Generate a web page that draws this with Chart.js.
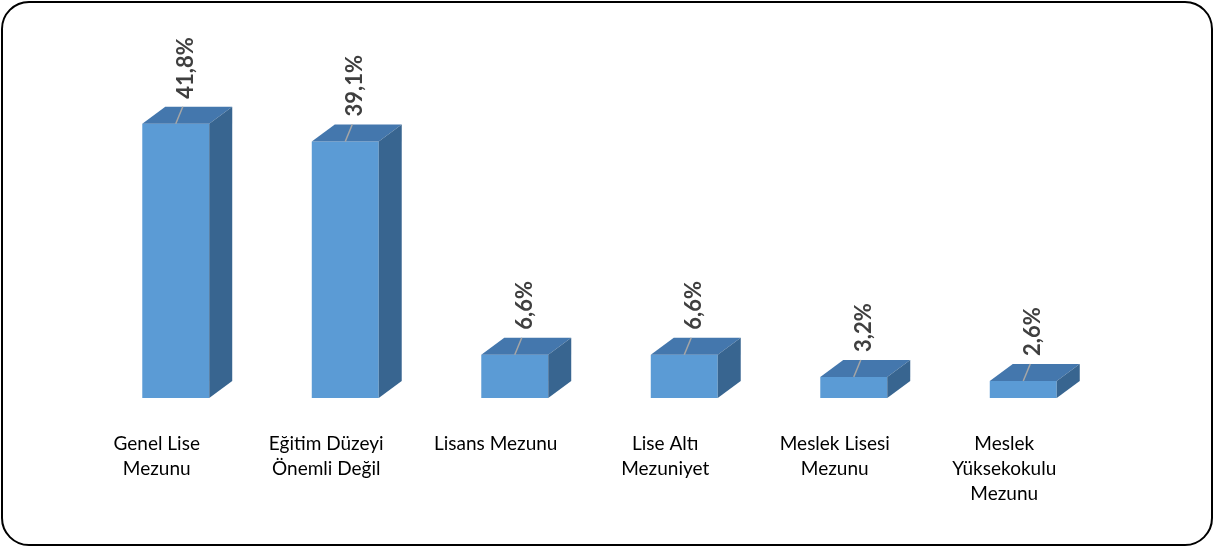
<!DOCTYPE html>
<html>
<head>
<meta charset="utf-8">
<script src="https://cdn.jsdelivr.net/npm/chart.js@4"></script>
<style>
  html, body { margin: 0; padding: 0; background: #fff; }
  #wrap { position: relative; width: 1215px; height: 548px; }
  #frame {
    position: absolute; left: 1px; top: 1px; width: 1212px; height: 545px;
    box-sizing: border-box; border: 2px solid #000; border-radius: 28px;
    pointer-events: none;
  }
</style>
</head>
<body>
<div id="wrap">
  <canvas id="bars"></canvas>
  <div id="frame"></div>
</div>
<script>
const categories = [
  ['Genel Lise', 'Mezunu'],
  ['Eğitim Düzeyi', 'Önemli Değil'],
  'Lisans Mezunu',
  ['Lise Altı', 'Mezuniyet'],
  ['Meslek Lisesi', 'Mezunu'],
  ['Meslek', 'Yüksekokulu', 'Mezunu']
];
const shares = [41.8, 39.1, 6.6, 6.6, 3.2, 2.6];

const FRONT = '#5b9bd5';
const TOP = '#4477ad';
const SIDE = '#386590';
const DX = 23, DY = 17;

// draws the top and side faces of each bar, then the rotated value labels
const box3d = {
  id: 'box3d',
  afterDatasetsDraw(chart) {
    const c = chart.ctx;
    const meta = chart.getDatasetMeta(0);
    meta.data.forEach((bar, i) => {
      const l = bar.x - bar.width / 2, r = bar.x + bar.width / 2;
      const t = bar.y, b = bar.base;
      c.save();
      c.fillStyle = TOP;
      c.beginPath();
      c.moveTo(l, t); c.lineTo(l + DX, t - DY); c.lineTo(r + DX, t - DY); c.lineTo(r, t);
      c.closePath(); c.fill();
      c.fillStyle = SIDE;
      c.beginPath();
      c.moveTo(r, t); c.lineTo(r + DX, t - DY); c.lineTo(r + DX, b - DY); c.lineTo(r, b);
      c.closePath(); c.fill();

      // leader line
      c.strokeStyle = '#a6a6a6';
      c.lineWidth = 1.5;
      c.beginPath();
      c.moveTo(bar.x, t);
      c.lineTo(bar.x + 7, t - 17);
      c.stroke();

      // value label, rotated
      const txt = shares[i].toFixed(1).replace('.', ',') + '%';
      c.translate(bar.x + 10, t - 25);
      c.rotate(-Math.PI / 2);
      c.font = 'bold 22px Lato';
      c.fillStyle = '#3f3f3f';
      c.textAlign = 'left';
      c.textBaseline = 'middle';
      c.fillText(txt, 0, 0);
      c.restore();
    });
  }
};

new Chart(document.getElementById('bars'), {
  type: 'bar',
  data: {
    labels: categories,
    datasets: [{
      data: shares,
      backgroundColor: FRONT,
      borderWidth: 0,
      categoryPercentage: 1,
      barPercentage: 0.395
    }]
  },
  options: {
    responsive: true,
    maintainAspectRatio: false,
    animation: false,
    layout: { padding: { left: 91, right: 107, top: 70, bottom: 0 } },
    plugins: { legend: { display: false }, tooltip: { enabled: false } },
    scales: {
      x: {
        grid: { display: false },
        border: { display: false },
        afterFit(scale) { scale.height = 150; },
        ticks: {
          color: '#000',
          font: { family: 'Lato', size: 19, lineHeight: 1.32 },
          padding: 25,
          labelOffset: -19,
          maxRotation: 0,
          autoSkip: false
        }
      },
      y: { display: false, min: 0, max: 50 }
    }
  },
  plugins: [box3d]
});
</script>
</body>
</html>
